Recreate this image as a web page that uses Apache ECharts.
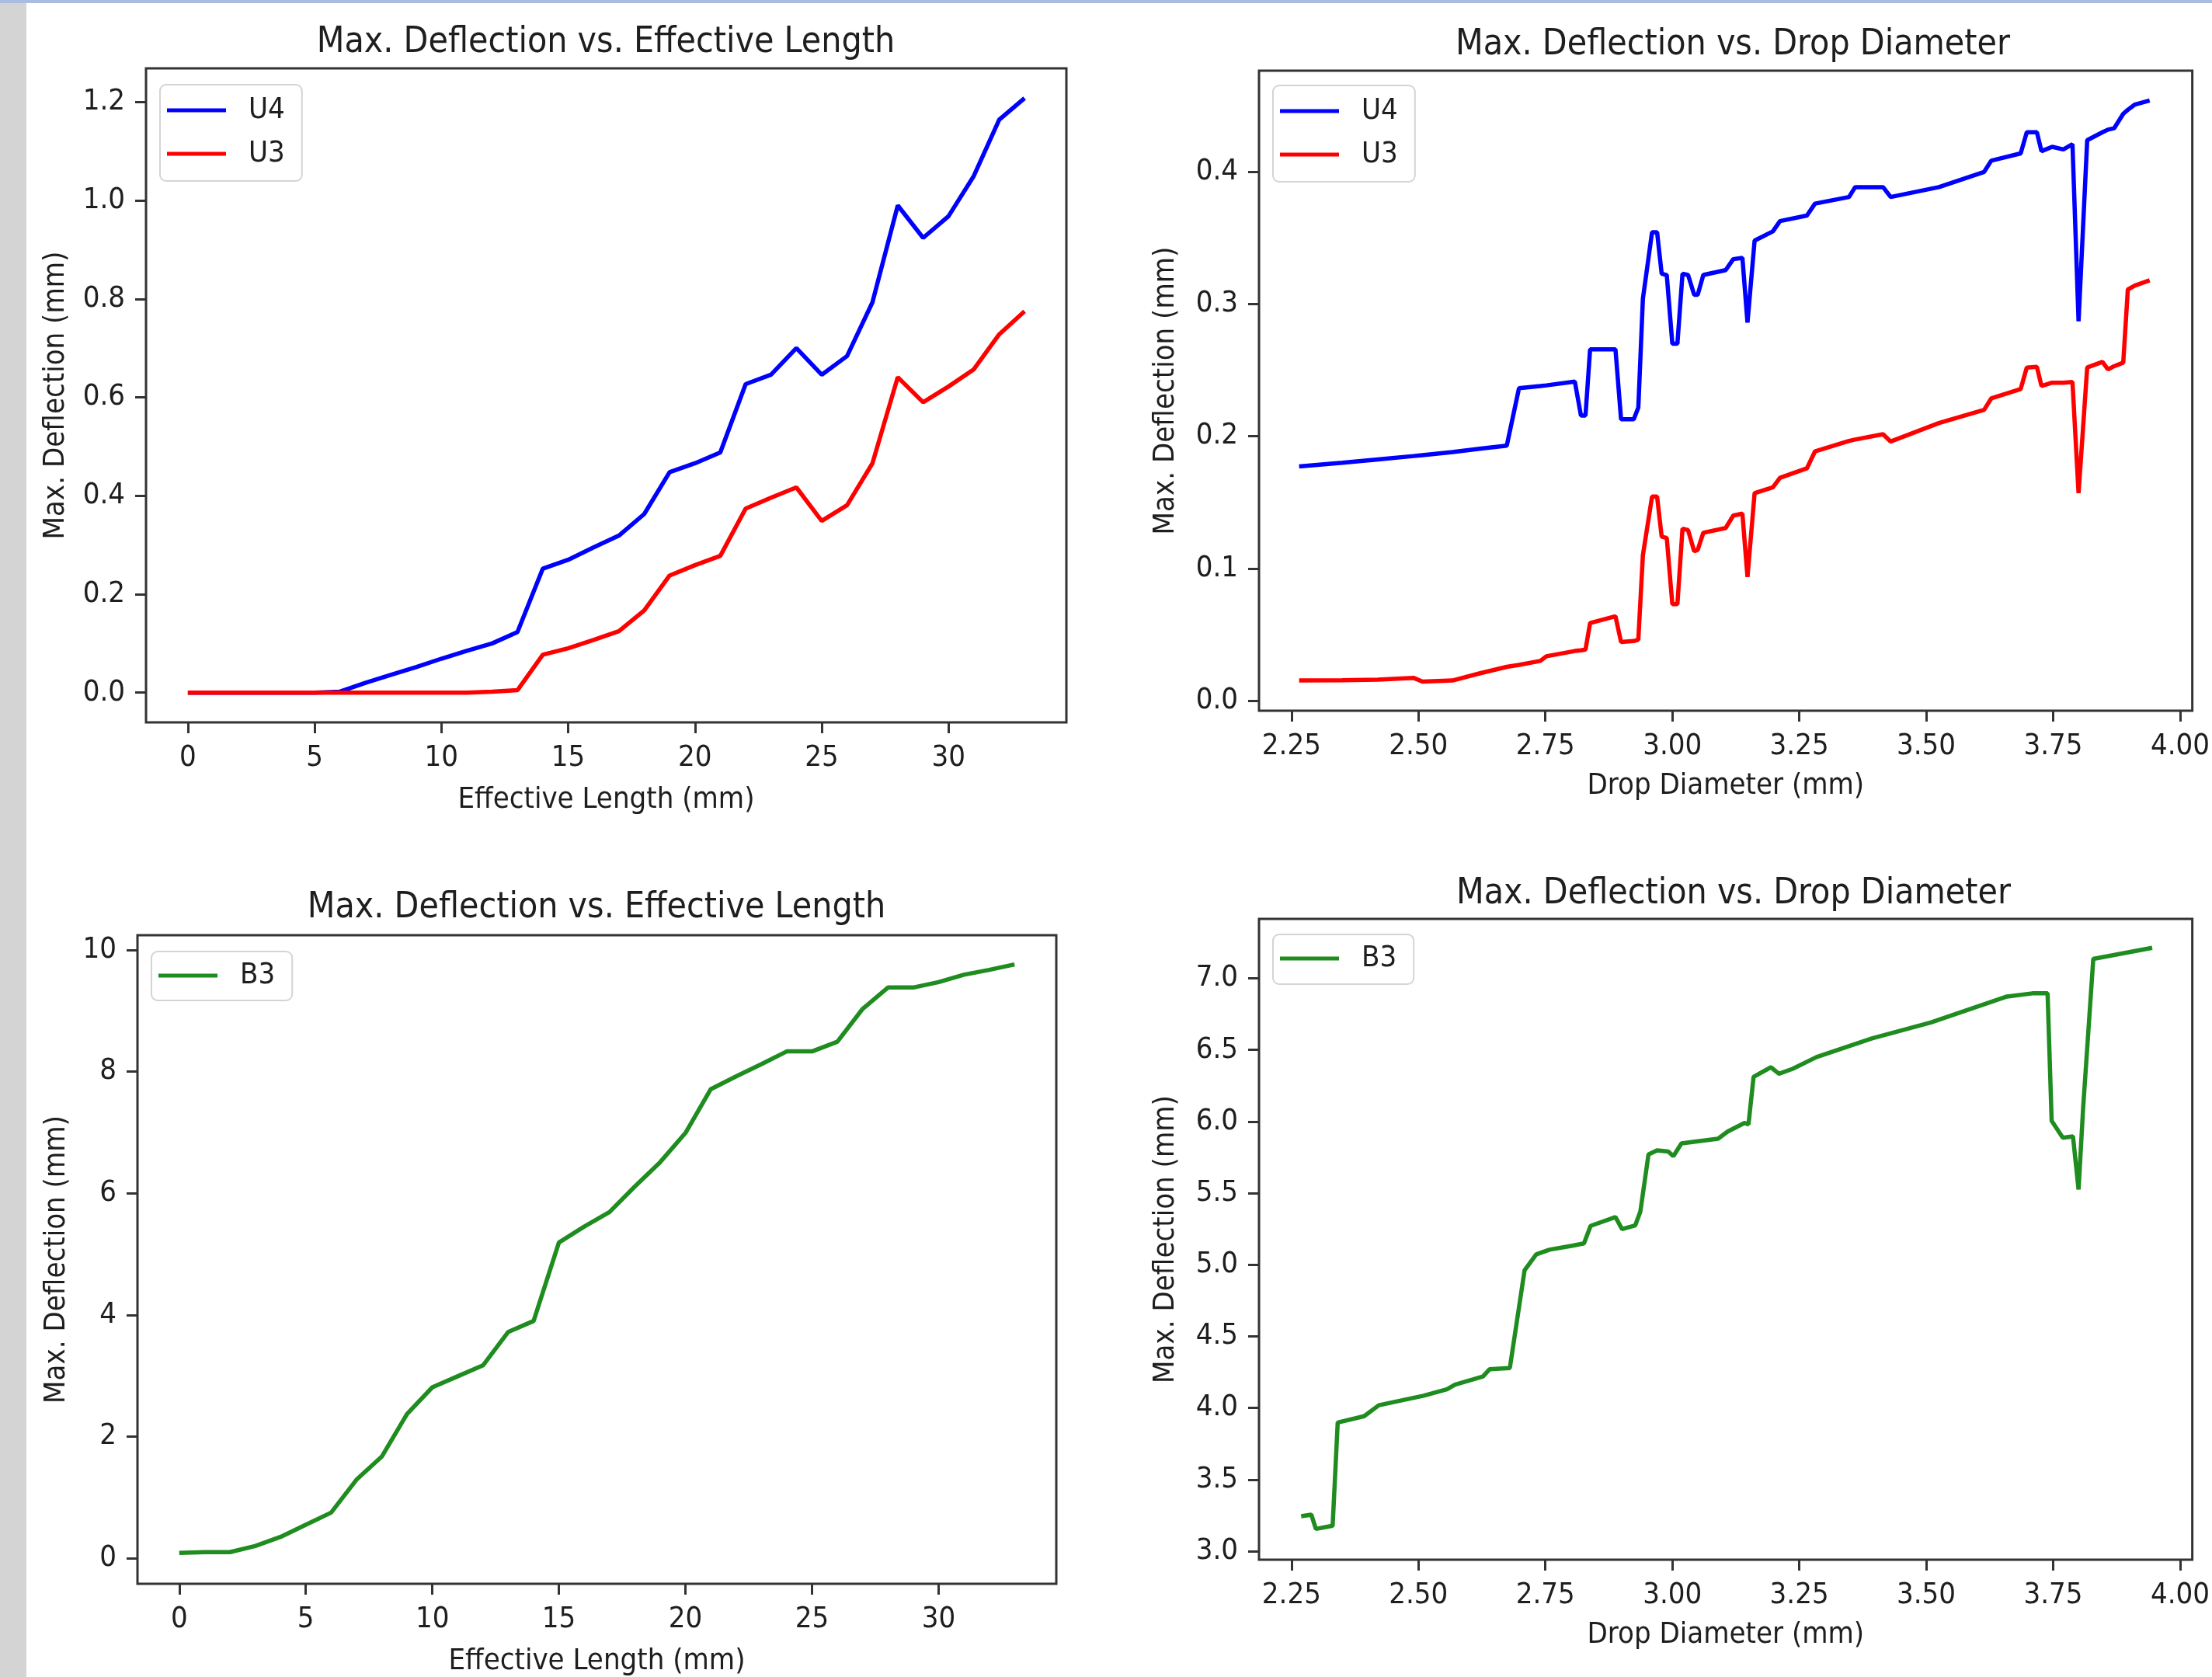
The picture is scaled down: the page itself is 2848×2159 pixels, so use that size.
<!DOCTYPE html>
<html>
<head>
<meta charset="utf-8">
<script src="https://cdn.jsdelivr.net/npm/echarts@6.0.0/dist/echarts.min.js"></script>
<style>
html,body{margin:0;padding:0;background:#fff;}
#chart{width:2848px;height:2159px;}
</style>
</head>
<body>
<div id="chart"></div>
<script>
// ---------- DATA ----------
const effLen = [0,1,2,3,4,5,6,7,8,9,10,11,12,13,14,15,16,17,18,19,20,21,22,23,24,25,26,27,28,29,30,31,32,33];
const u4Eff = [0,0,0,0,0,0,0.002,0.02,0.036,0.052,0.069,0.085,0.10,0.123,0.252,0.27,0.295,0.319,0.363,0.448,0.466,0.488,0.627,0.646,0.70,0.646,0.684,0.793,0.99,0.924,0.968,1.05,1.164,1.208];
const u3Eff = [0,0,0,0,0,0,0,0,0,0,0,0,0.002,0.005,0.077,0.09,0.107,0.125,0.167,0.238,0.259,0.278,0.374,0.396,0.417,0.349,0.381,0.466,0.641,0.59,0.622,0.657,0.728,0.775];
const b3Eff = [0.088,0.1,0.1,0.2,0.35,0.55,0.75,1.29,1.67,2.37,2.81,2.99,3.17,3.72,3.90,5.19,5.45,5.69,6.11,6.51,6.99,7.71,7.92,8.12,8.33,8.33,8.49,9.03,9.38,9.38,9.47,9.59,9.67,9.76];

const dropDiamU = [2.265,2.35,2.42,2.49,2.508,2.567,2.62,2.674,2.698,2.74,2.752,2.808,2.820,2.829,2.838,2.888,2.899,2.924,2.933,2.942,2.960,2.970,2.979,2.989,3.000,3.010,3.020,3.031,3.043,3.050,3.061,3.105,3.120,3.138,3.148,3.162,3.198,3.212,3.265,3.281,3.348,3.360,3.415,3.430,3.525,3.614,3.628,3.686,3.698,3.718,3.727,3.748,3.770,3.788,3.800,3.817,3.847,3.858,3.870,3.888,3.897,3.911,3.940];
const u4Drop = [0.1771,0.1800,0.1825,0.1850,0.1857,0.1880,0.1905,0.1929,0.2363,0.2380,0.2385,0.2414,0.2157,0.2157,0.2657,0.2657,0.2128,0.2128,0.2216,0.3040,0.3543,0.3543,0.3230,0.3220,0.2700,0.2700,0.3230,0.3220,0.3070,0.3070,0.3220,0.3257,0.3340,0.3350,0.2860,0.3480,0.3550,0.3628,0.3670,0.3760,0.3810,0.3885,0.3885,0.3810,0.3885,0.4000,0.4085,0.4140,0.4300,0.4300,0.4157,0.4190,0.4170,0.4210,0.2870,0.4240,0.4300,0.4320,0.4330,0.4440,0.4470,0.4510,0.4540];
const u3Drop = [0.0152,0.0154,0.0158,0.0172,0.0143,0.0152,0.0205,0.0255,0.0270,0.0300,0.0335,0.0375,0.0380,0.0386,0.0586,0.0638,0.0443,0.0450,0.0460,0.1100,0.1543,0.1543,0.1240,0.1230,0.0729,0.0729,0.1300,0.1290,0.1130,0.1140,0.1270,0.1306,0.1400,0.1414,0.0935,0.1570,0.1614,0.1685,0.1757,0.1886,0.1965,0.1975,0.2015,0.1960,0.2100,0.2200,0.2286,0.2357,0.2520,0.2525,0.2380,0.2405,0.2405,0.2410,0.1570,0.2520,0.2563,0.2505,0.2530,0.2557,0.3110,0.3140,0.3180];

const dropDiamB = [2.269,2.289,2.298,2.331,2.341,2.393,2.422,2.51,2.556,2.572,2.627,2.64,2.68,2.709,2.732,2.758,2.803,2.826,2.839,2.888,2.901,2.927,2.937,2.953,2.97,2.992,3.002,3.018,3.09,3.109,3.142,3.15,3.16,3.194,3.21,3.237,3.284,3.393,3.509,3.659,3.709,3.739,3.747,3.769,3.789,3.80,3.809,3.829,3.945];
const b3Drop = [3.244,3.255,3.155,3.177,3.898,3.942,4.019,4.085,4.13,4.163,4.219,4.27,4.279,4.961,5.072,5.105,5.133,5.149,5.271,5.333,5.249,5.275,5.371,5.770,5.798,5.791,5.758,5.847,5.88,5.93,5.99,5.98,6.312,6.379,6.334,6.368,6.45,6.58,6.692,6.873,6.895,6.895,6.005,5.887,5.896,5.525,6.095,7.136,7.213];

const effTicks = [0,5,10,15,20,25,30];
const dropTicks = [2.25,2.50,2.75,3.00,3.25,3.50,3.75,4.00];
const yTicksU4Eff = [0.0,0.2,0.4,0.6,0.8,1.0,1.2];
const yTicksUDrop = [0.0,0.1,0.2,0.3,0.4];
const yTicksB3Eff = [0,2,4,6,8,10];
const yTicksB3Drop = [3.0,3.5,4.0,4.5,5.0,5.5,6.0,6.5,7.0];

const titles = ['Max. Deflection vs. Effective Length','Max. Deflection vs. Drop Diameter','Max. Deflection vs. Effective Length','Max. Deflection vs. Drop Diameter'];
const xNames = ['Effective Length (mm)','Drop Diameter (mm)','Effective Length (mm)','Drop Diameter (mm)'];
const yName = 'Max. Deflection (mm)';

// ---------- STYLE / LAYOUT ----------
const FONT = "'DejaVu Sans Condensed', 'DejaVu Sans', sans-serif";
const TXT = '#1e1e1e';
const FRAME = '#333333';
const TICK_FS = 38, LABEL_FS = 38, TITLE_FS = 46;
const LEGEND_ICON = 'path://M0,0L76,0L76,5L0,5Z';

const grids = [
  {left:188, top:88, width:1185, height:842},
  {left:1621, top:91, width:1222, height:824},
  {left:177, top:1204, width:1183, height:835},
  {left:1621, top:1183, width:1222, height:825}
];
const titlePos = [[780,55],[2231,58],[768,1169],[2232,1151]];

const mctx = document.createElement('canvas').getContext('2d');
function textW(t, fs){ mctx.font = fs + 'px ' + FONT; return mctx.measureText(t).width; }

function xAx(g, min, max, ticks, dec, name, gap){
  return {
    type:'value', gridIndex:g, min:min, max:max, position:'bottom',
    name:name, nameLocation:'middle', nameGap:gap,
    nameTextStyle:{fontSize:LABEL_FS, color:TXT, fontFamily:FONT},
    axisLine:{show:false, onZero:false},
    axisTick:{show:true, length:14, customValues:ticks, lineStyle:{color:FRAME, width:3}},
    axisLabel:{show:true, customValues:ticks, margin:27, fontSize:TICK_FS, color:TXT, fontFamily:FONT,
      formatter:function(v){return Number(v).toFixed(dec);}},
    splitLine:{show:false}
  };
}
function yAx(g, min, max, ticks, dec, gap){
  return {
    type:'value', gridIndex:g, min:min, max:max, position:'left',
    name:yName, nameLocation:'middle', nameGap:gap, nameRotate:90,
    nameTextStyle:{fontSize:LABEL_FS, color:TXT, fontFamily:FONT},
    axisLine:{show:false, onZero:false},
    axisTick:{show:true, length:14, customValues:ticks, lineStyle:{color:FRAME, width:3}},
    axisLabel:{show:true, customValues:ticks, margin:27, fontSize:TICK_FS, color:TXT, fontFamily:FONT,
      formatter:function(v){return Number(v).toFixed(dec);}},
    splitLine:{show:false}
  };
}
function legend(names, left, top, pad){
  return {
    data:names.map(function(n){return {name:n, icon:LEGEND_ICON};}),
    orient:'vertical', left:left, top:top,
    itemWidth:76, itemHeight:40, itemGap:18, padding:pad, symbolKeepAspect:true,
    backgroundColor:'rgba(255,255,255,0.8)', borderColor:'#d4d4d4', borderWidth:2, borderRadius:8,
    textStyle:{fontSize:LABEL_FS, color:TXT, fontFamily:FONT, padding:[0,0,0,24]},
    selectedMode:false
  };
}
function line(name, x, y, xi, color){
  return {
    type:'line', name:name, xAxisIndex:xi, yAxisIndex:xi,
    data:x.map(function(v,i){return [v, y[i]];}),
    showSymbol:false, symbol:'none', clip:true,
    lineStyle:{color:color, width:5.5}, itemStyle:{color:color},
    emphasis:{disabled:true}, animation:false
  };
}

const option = {
  backgroundColor:'#ffffff',
  animation:false,
  title: titles.map(function(t,i){
    const w = textW(t, TITLE_FS);
    return {text:t, left:titlePos[i][0]-w/2, top:titlePos[i][1]-27, padding:0,
      textStyle:{fontSize:TITLE_FS, fontWeight:'normal', color:TXT, fontFamily:FONT, lineHeight:54}};
  }),
  grid: grids.map(function(g){
    return Object.assign({show:true, borderColor:FRAME, borderWidth:3, backgroundColor:'#ffffff', containLabel:false}, g);
  }),
  xAxis:[
    xAx(0, -1.65, 34.65, effTicks, 0, xNames[0], 81),
    xAx(1, 2.186, 4.024, dropTicks, 2, xNames[1], 78),
    xAx(2, -1.65, 34.65, effTicks, 0, xNames[2], 81),
    xAx(3, 2.186, 4.024, dropTicks, 2, xNames[3], 78)
  ],
  yAxis:[
    yAx(0, -0.0604, 1.2685, yTicksU4Eff, 1, 97),
    yAx(1, -0.0077, 0.4766, yTicksUDrop, 1, 101),
    yAx(2, -0.42, 10.24, yTicksB3Eff, 0, 85),
    yAx(3, 2.94, 7.415, yTicksB3Drop, 1, 101)
  ],
  legend:[
    legend(['U4','U3'], 206, 109, [14,22,16,9]),
    legend(['U4','U3'], 1639, 110, [14,22,16,9]),
    legend(['B3'], 195, 1225, [12,22,13,9]),
    legend(['B3'], 1639, 1203, [12,22,14,9])
  ],
  series:[
    line('U4', effLen, u4Eff, 0, '#0000ff'),
    line('U3', effLen, u3Eff, 0, '#ff0000'),
    line('U4', dropDiamU, u4Drop, 1, '#0000ff'),
    line('U3', dropDiamU, u3Drop, 1, '#ff0000'),
    line('B3', effLen, b3Eff, 2, '#1f8c1f'),
    line('B3', dropDiamB, b3Drop, 3, '#1f8c1f')
  ],
  graphic:[
    {type:'rect', left:0, top:0, shape:{width:34, height:2159}, style:{fill:'#d4d4d4'}, silent:true, z:-10},
    {type:'rect', left:0, top:0, shape:{width:2848, height:4}, style:{fill:'#a9bde0'}, silent:true, z:-10}
  ]
};

const chart = echarts.init(document.getElementById('chart'), null, {renderer:'canvas', width:2848, height:2159});
chart.setOption(option);
</script>
</body>
</html>
